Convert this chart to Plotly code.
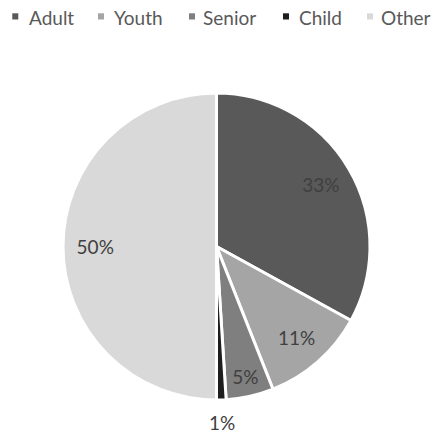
import plotly.graph_objects as go

labels = ["Adult", "Youth", "Senior", "Child", "Other"]
values = [33, 11, 5, 1, 50]
colors = ["#595959", "#a5a5a5", "#7f7f7f", "#1e1e1e", "#d9d9d9"]
inside_labels = [True, True, True, False, True]   # the 1% label sits below the pie

W, H = 435, 433
CX, CY, R = 216.5, 246.5, 153.5     # pie centre / radius in pixels
R_OUT = 182                          # ring used to place the outside label


def px(x):
    return x / W


def py(y):
    return 1 - y / H


def domain(r):
    return dict(x=[px(CX - r), px(CX + r)], y=[py(CY + r), py(CY - r)])


transparent = ["rgba(0,0,0,0)"] * len(values)
label_font = dict(family="Lato", size=19, color="#404040")

fig = go.Figure()
# filled pie
fig.add_trace(go.Pie(
    labels=labels, values=values, sort=False, direction="clockwise", rotation=0,
    marker=dict(colors=colors, line=dict(color="white", width=3)),
    textinfo="none", domain=domain(R), showlegend=False,
    hoverinfo="label+percent",
))
# transparent ring carrying the inside percentage labels
fig.add_trace(go.Pie(
    labels=labels, values=values, sort=False, direction="clockwise", rotation=0,
    hole=0.58,
    marker=dict(colors=transparent, line=dict(width=0)),
    texttemplate=["%{percent:.0%}" if f else "" for f in inside_labels],
    textposition="inside", insidetextorientation="horizontal",
    textfont=label_font, domain=domain(R), showlegend=False, hoverinfo="skip",
))
# larger transparent pie carrying the label outside the small slice
fig.add_trace(go.Pie(
    labels=labels, values=values, sort=False, direction="clockwise", rotation=0,
    marker=dict(colors=transparent, line=dict(width=0)),
    texttemplate=["" if f else "%{percent:.0%}" for f in inside_labels],
    textposition="inside", insidetextorientation="horizontal",
    textfont=label_font, domain=domain(R_OUT), showlegend=False, hoverinfo="skip",
))

# legend built from the same labels / colours
marker_x = [12.3, 98, 189, 283, 367]
text_x = [28, 113, 202, 298, 380]
shapes, annotations = [], []
for lab, col, mx, tx in zip(labels, colors, marker_x, text_x):
    shapes.append(dict(type="rect", xref="paper", yref="paper",
                       x0=px(mx), x1=px(mx + 6), y0=py(19.5), y1=py(13.3),
                       fillcolor=col, line=dict(width=0)))
    annotations.append(dict(text=lab, xref="paper", yref="paper",
                            x=px(tx - 1), y=py(17.5), xanchor="left", yanchor="middle",
                            showarrow=False,
                            font=dict(family="Lato", size=19, color="#595959")))

fig.update_layout(
    width=W, height=H,
    margin=dict(l=0, r=0, t=0, b=0),
    paper_bgcolor="white", plot_bgcolor="white",
    showlegend=False,
    shapes=shapes, annotations=annotations,
    uniformtext=dict(minsize=19, mode="show"),
)

fig.write_html("out.html", config={"displayModeBar": False},
               post_script="document.body.style.margin='0';")
